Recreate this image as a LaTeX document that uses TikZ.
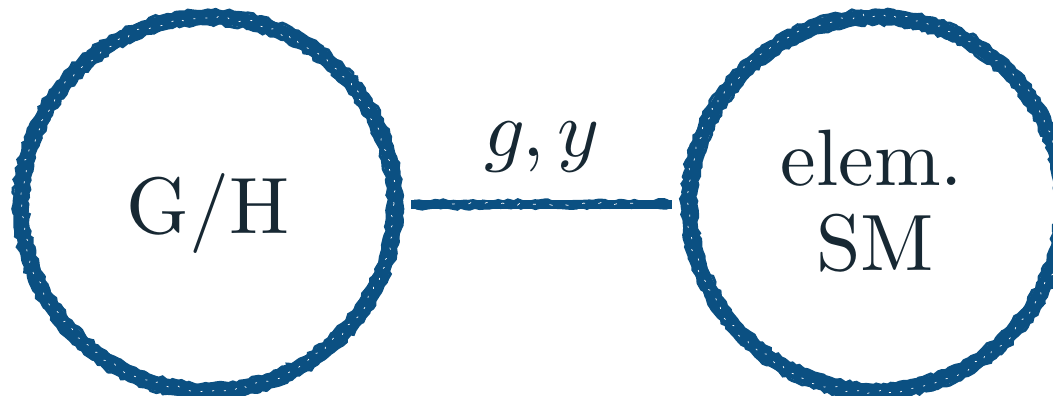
\documentclass[tikz,border=0pt]{standalone}
\usetikzlibrary{decorations.pathmorphing,calc}
\definecolor{inkblue}{HTML}{0B5082}
\definecolor{inktext}{HTML}{172833}
\font\bigrm=cmr10 at 80pt
\font\bigmi=cmmi10 at 80pt
\tikzset{
  x=1pt, y=-1pt,
  ring/.style={circle, draw=inkblue, line width=14pt, minimum size=374pt, inner sep=0pt},
  roughedge/.style={draw=inkblue, line width=3pt, decorate,
    decoration={random steps, segment length=4pt, amplitude=1.6pt}},
  speck/.style={draw=white, line width=0.7pt, decorate,
    decoration={random steps, segment length=5pt, amplitude=2.5pt}, dash pattern=on 2pt off 10pt},
  txt/.style={text=inktext, font=\bigrm, inner sep=0pt, anchor=base},
  link/.style={draw=inkblue, line width=9pt},
  linkrough/.style={draw=inkblue, line width=3pt, decorate,
    decoration={random steps, segment length=5pt, amplitude=1.4pt}},
}
\begin{document}
\begin{tikzpicture}
\pgfmathsetseed{7}
\useasboundingbox (0,0) rectangle (1053,396);
% circles
\node[ring] (gh) at (208,204) {};
\node[ring] (sm) at (876,204) {};
\draw[roughedge] (208,204) circle (194pt);
\draw[roughedge] (208,204) circle (180pt);
\draw[roughedge] (876,204) circle (194pt);
\draw[roughedge] (876,204) circle (180pt);
\draw[speck] (208,204) circle (186pt);
\draw[speck] (876,204) circle (188pt);
% connector end points
\coordinate (ls) at ($(gh.east)+(9,0)$);
\coordinate (le) at ($(sm.west)+(-10,0)$);
\coordinate (lsa) at ($(gh.east)+(12,-3)$);
\coordinate (lea) at ($(sm.west)+(-14,-3)$);
\coordinate (lsb) at ($(gh.east)+(14,4)$);
\coordinate (leb) at ($(sm.west)+(-12,3)$);
\coordinate (lsc) at ($(gh.east)+(50,0)$);
\coordinate (lec) at ($(sm.west)+(-40,0)$);
% connector
\draw[link] (ls) -- (le);
\draw[linkrough] (lsa) -- (lea);
\draw[linkrough] (lsb) -- (leb);
\draw[draw=white, line width=0.7pt, decorate, decoration={random steps, segment length=4pt, amplitude=1.5pt}, dash pattern=on 3pt off 14pt] (lsc) -- (lec);
% labels
\node[txt] (ghlabel) at (208,233) {G/H};
\node[txt] (elem) at (872,185) {elem.};
\node[txt] (smlabel) at (875,270) {SM};
\node[txt, font=\bigmi] (gy) at (541,156) {g\char"3B\kern13pt y};
\end{tikzpicture}
\end{document}
